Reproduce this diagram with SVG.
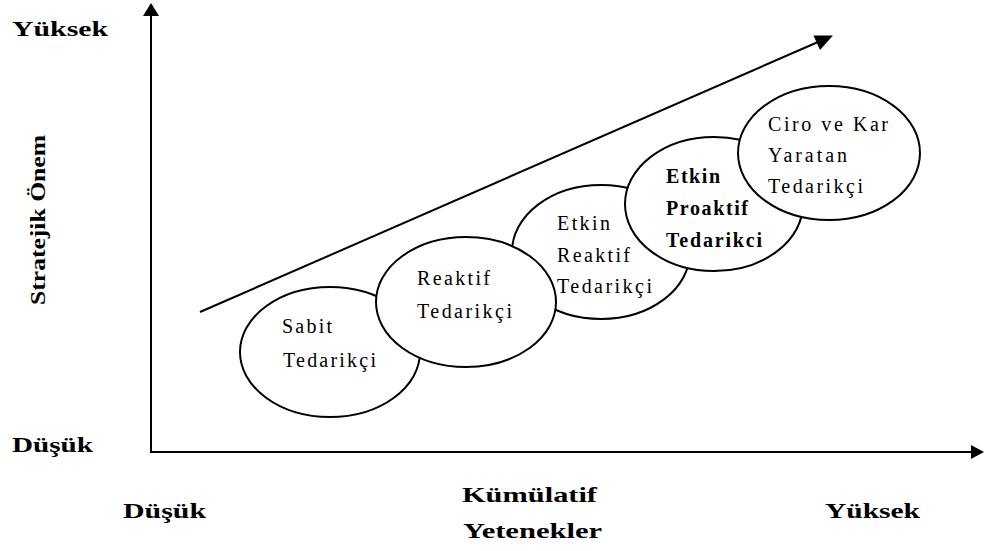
<svg xmlns="http://www.w3.org/2000/svg" width="984" height="551" viewBox="0 0 984 551">
<style>
.ax{fill:none;stroke:#000;stroke-width:2}
.el{fill:#fff;stroke:#000;stroke-width:2}
.lbl{font-family:"Liberation Serif","Times New Roman",serif;font-weight:bold;font-size:22px;fill:#000}
.t{font-family:"Liberation Serif","Times New Roman",serif;font-size:20px;fill:#000}
.tb{font-family:"Liberation Serif","Times New Roman",serif;font-size:20px;font-weight:bold;fill:#000}
</style>
<g id="connectors">
<line class="ax" x1="151" y1="14" x2="151" y2="452"/>
<path d="M151,3 L143,16 L159,16 Z" fill="#000"/>
<line class="ax" x1="150" y1="452" x2="973" y2="452"/>
<path d="M984,452 L971,445 L971,459 Z" fill="#000"/>
<line class="ax" x1="200" y1="312" x2="818" y2="42"/>
<path d="M833,35.5 L813.5,35.5 L820,50 Z" fill="#000"/>
</g>
<g id="axis-labels">
<text class="lbl" x="12" y="36" textLength="96" lengthAdjust="spacingAndGlyphs">Yüksek</text>
<text class="lbl" x="12" y="452" textLength="81" lengthAdjust="spacingAndGlyphs">Düşük</text>
<text class="lbl" x="123" y="518" textLength="83" lengthAdjust="spacingAndGlyphs">Düşük</text>
<text class="lbl" x="462" y="502" textLength="135" lengthAdjust="spacingAndGlyphs">Kümülatif</text>
<text class="lbl" x="463" y="538" textLength="139" lengthAdjust="spacingAndGlyphs">Yetenekler</text>
<text class="lbl" x="825" y="518" textLength="95" lengthAdjust="spacingAndGlyphs">Yüksek</text>
<text class="lbl" transform="translate(45,305) rotate(-90)" font-size="23" textLength="170" lengthAdjust="spacingAndGlyphs">Stratejik Önem</text>
</g>
<g id="sabit">
<ellipse class="el" cx="330" cy="352" rx="90" ry="65"/>
<text class="t" x="282" y="333" textLength="50" lengthAdjust="spacing">Sabit</text>
<text class="t" x="283" y="367" textLength="93" lengthAdjust="spacing">Tedarikçi</text>
</g>
<g id="etkin-reaktif">
<ellipse class="el" cx="601" cy="252" rx="89" ry="67"/>
<text class="t" x="557" y="230" textLength="53" lengthAdjust="spacing">Etkin</text>
<text class="t" x="557" y="262" textLength="73" lengthAdjust="spacing">Reaktif</text>
<text class="t" x="557" y="293" textLength="95" lengthAdjust="spacing">Tedarikçi</text>
</g>
<g id="reaktif">
<ellipse class="el" cx="466" cy="302" rx="90" ry="65"/>
<text class="t" x="417" y="285" textLength="73" lengthAdjust="spacing">Reaktif</text>
<text class="t" x="417" y="318" textLength="95" lengthAdjust="spacing">Tedarikçi</text>
</g>
<g id="etkin-proaktif">
<ellipse class="el" cx="714" cy="204" rx="89" ry="67"/>
<text class="tb" x="666" y="183" textLength="54" lengthAdjust="spacing">Etkin</text>
<text class="tb" x="666" y="215" textLength="82" lengthAdjust="spacing">Proaktif</text>
<text class="tb" x="666" y="247" textLength="96" lengthAdjust="spacing">Tedarikci</text>
</g>
<g id="ciro">
<ellipse class="el" cx="829" cy="153" rx="91" ry="67"/>
<text class="t" x="768" y="131" textLength="120" lengthAdjust="spacing">Ciro ve Kar</text>
<text class="t" x="768" y="162" textLength="79" lengthAdjust="spacing">Yaratan</text>
<text class="t" x="768" y="193" textLength="95" lengthAdjust="spacing">Tedarikçi</text>
</g>
</svg>
